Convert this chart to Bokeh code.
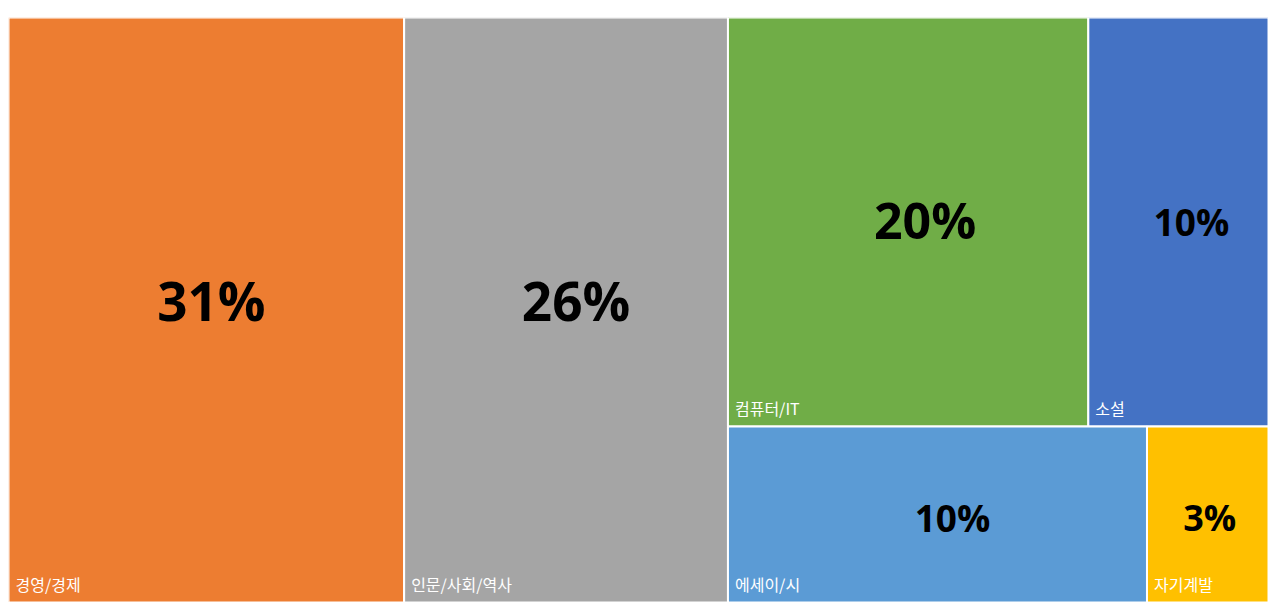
from bokeh.plotting import figure
from bokeh.models import ColumnDataSource, Range1d
from bokeh.embed import file_html
from bokeh.resources import INLINE
from bokeh.core.properties import value

categories = ["경영/경제", "인문/사회/역사", "컴퓨터/IT", "소설", "에세이/시", "자기계발"]
values = [31.4, 25.7, 20.0, 10.0, 10.0, 2.9]
colors = ["#ED7D31", "#A5A5A5", "#70AD47", "#4472C4", "#5B9BD5", "#FFC000"]

# styling (font size of value label per tile, nudges in px)
label_px = [53, 53, 50, 37, 37, 36]
label_dx = [5, 10, 17, 13, 15, 2]
label_dy = [-7, -7, 1, 1, 5, 5]

W, H = 1260.0, 585.0
total = sum(values)

# layout: two full-height columns, then a block of two rows
x0 = 0.0
lefts, rights, tops, bottoms = [], [], [], []
for i in range(2):
    w = W * values[i] / total
    lefts.append(x0); rights.append(x0 + w); tops.append(0.0); bottoms.append(H)
    x0 += w
rest = sum(values[2:])
row_defs = [(2, 3), (4, 5)]
y0 = 0.0
for a, b in row_defs:
    rv = values[a] + values[b]
    h = H * rv / rest
    xx = x0
    for k in (a, b):
        w = (W - x0) * values[k] / rv
        lefts.append(xx); rights.append(xx + w); tops.append(y0); bottoms.append(y0 + h)
        xx += w
    y0 += h

pct = [f"{round(v / total * 100):.0f}%" for v in values]
cx = [(l + r) / 2 + d for l, r, d in zip(lefts, rights, label_dx)]
# anchor of value label so digits sit near the tile centre
by = [(t + b) / 2 - 0.053 * s + d for t, b, s, d in zip(tops, bottoms, label_px, label_dy)]

src = ColumnDataSource(dict(left=lefts, right=rights, top=tops, bottom=bottoms,
                            color=colors, cat=categories, pct=pct, cx=cx, by=by,
                            lx=[l + 7 for l in lefts], ly=bottoms,
                            size=[f"{s}px" for s in label_px]))

p = figure(width=1268, height=602, output_backend="svg", toolbar_location=None,
           x_range=Range1d(0, W), y_range=Range1d(H, 0),
           min_border_left=8, min_border_right=0, min_border_top=17, min_border_bottom=0)
p.axis.visible = False
p.grid.visible = False
p.outline_line_color = None
p.background_fill_color = "white"
p.border_fill_color = "white"

p.quad(left="left", right="right", top="top", bottom="bottom", source=src,
       fill_color="color", line_color="white", line_width=2)

p.text(x="cx", y="by", text="pct", source=src, text_align="center", text_baseline="alphabetic",
       text_font=value("Open Sans"), text_font_style="bold", text_font_size="size",
       text_color="black")

p.text(x="lx", y="ly", text="cat", source=src, text_align="left", text_baseline="bottom",
       y_offset=-7, text_font=value("Noto Sans CJK KR"), text_font_size="16px",
       text_color="white")

open("out.html", "w").write(file_html(p, INLINE))
